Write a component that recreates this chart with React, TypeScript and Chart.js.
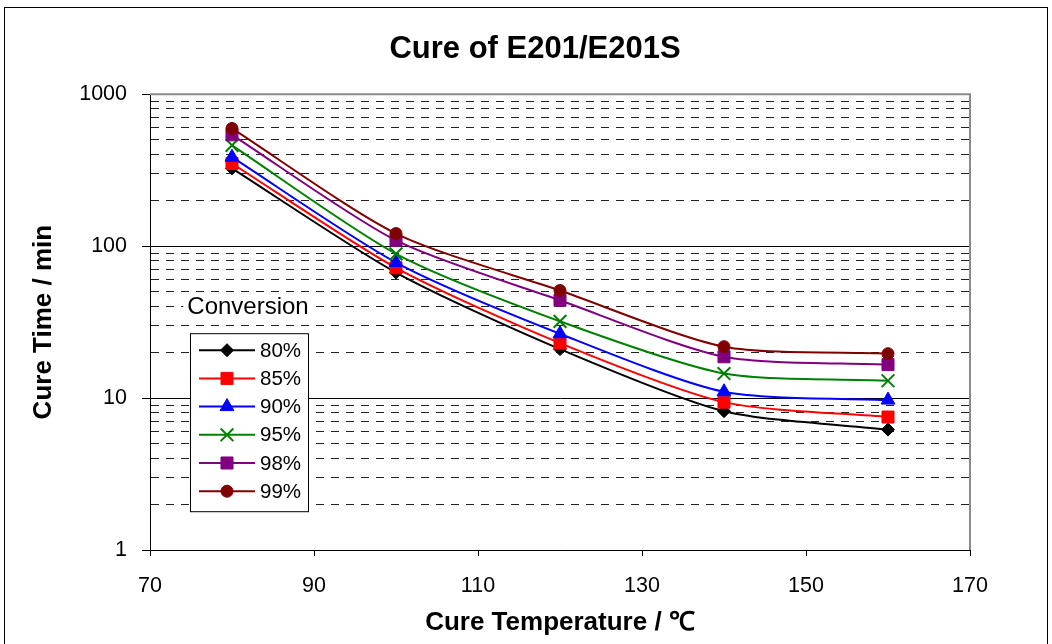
import React, { useEffect, useRef } from 'react';
import { Chart, registerables } from 'chart.js';
import { drawPoint } from 'chart.js/helpers';

Chart.register(...registerables);

// ---------- data ----------
const chartTitle = 'Cure of E201/E201S';
const xAxisTitle = 'Cure Temperature / ℃';
const yAxisTitle = 'Cure Time / min';
const legendTitle = 'Conversion';

const temperatures = [80, 100, 120, 140, 160];
const seriesLabels = ['80%', '85%', '90%', '95%', '98%', '99%'];
const cure80 = [325, 67, 21, 8.2, 6.2];
const cure85 = [350, 72, 23, 9.4, 7.5];
const cure90 = [385, 78, 26.5, 11, 9.7];
const cure95 = [460, 89, 32, 14.5, 13];
const cure98 = [540, 109, 44, 18.7, 16.6];
const cure99 = [595, 121, 51, 21.8, 19.6];
const seriesValues = [cure80, cure85, cure90, cure95, cure98, cure99];

const xTickValues = [70, 90, 110, 130, 150, 170];
const yTickLabels = [1, 10, 100, 1000];
const yGridValues = [
  1, 2, 3, 4, 5, 6, 7, 8, 9,
  10, 20, 30, 40, 50, 60, 70, 80, 90,
  100, 200, 300, 400, 500, 600, 700, 800, 900,
  1000,
];

// ---------- styles ----------
const seriesColors = ['#000000', '#FF0000', '#0000FF', '#008000', '#800080', '#800000'];
const seriesPointStyles = ['rectRot', 'rect', 'triangle', 'crossRot', 'rect', 'circle'];
const seriesPointRadius = [6.5, 8.5, 8, 9, 8.5, 6];

const FONT = "'Liberation Sans', Arial, Helvetica, sans-serif";

const isMajor = (v: number | undefined) =>
  v !== undefined && yTickLabels.some((t) => Math.abs(t - v) < 1e-9);

const plotFramePlugin = {
  id: 'plotFrame',
  beforeDatasetsDraw(chart: any) {
    const { ctx, chartArea } = chart;
    ctx.save();
    ctx.strokeStyle = '#8a8a8a';
    ctx.lineWidth = 2;
    ctx.beginPath();
    ctx.moveTo(chartArea.left, chartArea.top);
    ctx.lineTo(chartArea.right, chartArea.top);
    ctx.lineTo(chartArea.right, chartArea.bottom);
    ctx.stroke();
    ctx.restore();
  },
};

const insetLegendPlugin = {
  id: 'insetLegend',
  afterDatasetsDraw(chart: any) {
    const { ctx, chartArea } = chart;
    const boxX = chartArea.left + 40;
    const boxY = chartArea.top + 239;
    const boxW = 118;
    const boxH = 178;
    ctx.save();
    // title
    ctx.font = `24px ${FONT}`;
    ctx.textAlign = 'center';
    ctx.textBaseline = 'middle';
    const tx = boxX + 58;
    const ty = boxY - 26;
    const tw = ctx.measureText(legendTitle).width;
    ctx.fillStyle = '#ffffff';
    ctx.fillRect(tx - tw / 2 - 4, ty - 15, tw + 8, 30);
    ctx.fillStyle = '#000000';
    ctx.fillText(legendTitle, tx, ty);
    // box
    ctx.fillStyle = '#ffffff';
    ctx.fillRect(boxX, boxY, boxW, boxH);
    ctx.strokeStyle = '#000000';
    ctx.lineWidth = 1;
    ctx.strokeRect(boxX + 0.5, boxY + 0.5, boxW, boxH);
    // items
    chart.data.datasets.forEach((ds: any, i: number) => {
      const y = boxY + 17 + i * 28.2;
      ctx.strokeStyle = ds.borderColor;
      ctx.lineWidth = 2;
      ctx.beginPath();
      ctx.moveTo(boxX + 9, y);
      ctx.lineTo(boxX + 65, y);
      ctx.stroke();
      ctx.fillStyle = ds.pointBackgroundColor;
      ctx.strokeStyle = ds.pointBorderColor;
      ctx.lineWidth = ds.pointBorderWidth;
      drawPoint(
        ctx,
        {
          pointStyle: ds.pointStyle,
          radius: ds.pointRadius,
          rotation: 0,
          borderWidth: ds.pointBorderWidth,
        } as any,
        boxX + 37,
        y
      );
      ctx.fillStyle = '#000000';
      ctx.font = `20.5px ${FONT}`;
      ctx.textAlign = 'left';
      ctx.textBaseline = 'middle';
      ctx.fillText(ds.label, boxX + 70, y + 1);
    });
    ctx.restore();
  },
};

export default function App() {
  const canvasRef = useRef<HTMLCanvasElement | null>(null);

  useEffect(() => {
    if (!canvasRef.current) return;
    Chart.defaults.font.family = FONT;
    Chart.defaults.color = '#000';

    const datasets = seriesLabels.map((label, i) => ({
      label,
      data: temperatures.map((t, j) => ({ x: t, y: seriesValues[i][j] })),
      borderColor: seriesColors[i],
      backgroundColor: seriesColors[i],
      pointBackgroundColor: seriesColors[i],
      pointBorderColor: seriesColors[i],
      pointBorderWidth: seriesPointStyles[i] === 'crossRot' ? 2 : 1,
      pointStyle: seriesPointStyles[i],
      pointRadius: seriesPointRadius[i],
      borderWidth: 2,
      tension: 0.25,
      fill: false,
      order: seriesLabels.length - i,
    }));

    const chart = new Chart(canvasRef.current, {
      type: 'line',
      data: { datasets },
      options: {
        responsive: false,
        animation: false,
        layout: { padding: { left: 28, right: 10, top: 0, bottom: 6 } },
        plugins: {
          legend: { display: false },
          tooltip: { enabled: false },
          title: {
            display: true,
            text: chartTitle,
            color: '#000',
            font: { size: 31, weight: 'bold', family: FONT },
            padding: { top: 31, bottom: 26 },
          },
        },
        scales: {
          x: {
            type: 'linear',
            min: xTickValues[0],
            max: xTickValues[xTickValues.length - 1],
            afterBuildTicks: (scale: any) => {
              scale.ticks = xTickValues.map((v) => ({ value: v }));
            },
            afterFit: (scale: any) => {
              scale.height = 88;
              scale.paddingRight = 82;
            },
            grid: {
              drawOnChartArea: false,
              drawTicks: true,
              tickLength: 6,
              color: '#000',
              tickColor: '#000',
            },
            border: { display: true, color: '#000', width: 1 },
            ticks: {
              padding: 17,
              color: '#000',
              font: { size: 21.5, family: FONT },
              maxRotation: 0,
              autoSkip: false,
            },
            title: {
              display: true,
              text: xAxisTitle,
              color: '#000',
              font: { size: 26, weight: 'bold', family: FONT },
              padding: { top: 0, bottom: 0 },
            },
          },
          y: {
            type: 'logarithmic',
            min: 1,
            max: 1000,
            afterBuildTicks: (scale: any) => {
              scale.ticks = yGridValues.map((v) => ({ value: v, major: isMajor(v) }));
            },
            afterFit: (scale: any) => {
              scale.width = 122;
            },
            grid: {
              drawOnChartArea: true,
              drawTicks: true,
              tickLength: 8,
              lineWidth: 1,
              color: (c: any) => (isMajor(c.tick?.value) ? '#000' : '#222'),
              tickColor: (c: any) => (isMajor(c.tick?.value) ? '#000' : 'rgba(0,0,0,0)'),
            },
            border: {
              display: true,
              color: '#000',
              width: 1,
              dash: (c: any) => (c.tick && !isMajor(c.tick.value) ? [8, 7] : []),
            },
            ticks: {
              padding: 15,
              color: '#000',
              autoSkip: false,
              font: { size: 21.5, family: FONT },
              callback: (value: any) => (isMajor(Number(value)) ? String(value) : ''),
            },
            title: {
              display: true,
              text: yAxisTitle,
              color: '#000',
              font: { size: 26, weight: 'bold', family: FONT },
              padding: { top: 0, bottom: 0 },
            },
          },
        },
      } as any,
      plugins: [plotFramePlugin, insetLegendPlugin],
    });

    return () => chart.destroy();
  }, []);

  return (
    <div>
      <div
        style={{
          position: 'fixed',
          left: 4,
          top: 7,
          width: 1044,
          height: 660,
          border: '1px solid #000',
          boxSizing: 'border-box',
          background: '#fff',
        }}
      />
      <canvas
        ref={canvasRef}
        width={1052}
        height={644}
        style={{ position: 'fixed', left: 0, top: 0, width: 1052, height: 644 }}
      />
    </div>
  );
}
